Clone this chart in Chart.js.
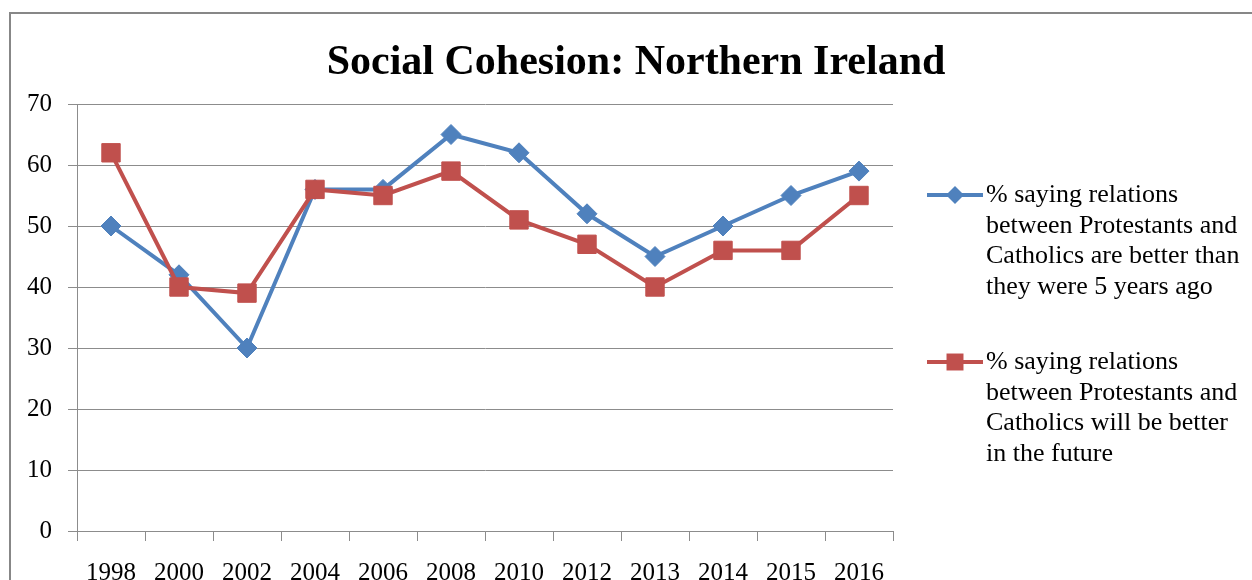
<!DOCTYPE html>
<html>
<head>
<meta charset="utf-8">
<title>Social Cohesion: Northern Ireland</title>
<script src="https://cdn.jsdelivr.net/npm/chart.js@4"></script>
<style>
  html, body { margin: 0; padding: 0; background: #fff; overflow: hidden; }
  canvas { display: block; }
</style>
</head>
<body>
<canvas id="myChart" width="1252" height="580"></canvas>
<script>
const years = ['1998', '2000', '2002', '2004', '2006', '2008', '2010', '2012', '2013', '2014', '2015', '2016'];
const betterThan5YearsAgo = [50, 42, 30, 56, 56, 65, 62, 52, 45, 50, 55, 59];
const betterInFuture = [62, 40, 39, 56, 55, 59, 51, 47, 40, 46, 46, 55];

const chartTitle = 'Social Cohesion: Northern Ireland';
// legend texts, already broken into lines
const labelPast = ['% saying relations', 'between Protestants and', 'Catholics are better than', 'they were 5 years ago'];
const labelFuture = ['% saying relations', 'between Protestants and', 'Catholics will be better', 'in the future'];

const BLUE = '#4F81BD';
const RED = '#C0504D';
const GRID = '#8c8c8c';
const SERIF = '"Liberation Serif", "DejaVu Serif", serif';

// frame, title and the wrapped legend on the right
const decorations = {
  id: 'decorations',
  beforeDraw(chart) {
    const ctx = chart.ctx;
    ctx.save();
    ctx.strokeStyle = '#878787';
    ctx.lineWidth = 2;
    ctx.strokeRect(10, 13, 1400, 800);
    ctx.restore();
  },
  afterDraw(chart) {
    const ctx = chart.ctx;
    ctx.save();
    ctx.fillStyle = '#000';
    ctx.font = 'bold 42px ' + SERIF;
    ctx.textAlign = 'center';
    ctx.textBaseline = 'middle';
    ctx.fillText(chartTitle, 636, 63);

    const startX = 927, endX = 983, textX = 986;
    const tops = [195, 362];
    const lineGap = 30.7;
    chart.data.datasets.forEach((ds, i) => {
      const y = tops[i];
      ctx.strokeStyle = ds.borderColor;
      ctx.lineWidth = ds.borderWidth;
      ctx.beginPath();
      ctx.moveTo(startX, y);
      ctx.lineTo(endX, y);
      ctx.stroke();
      ctx.fillStyle = ds.pointBackgroundColor;
      Chart.helpers.drawPoint(ctx, {
        pointStyle: ds.pointStyle,
        radius: ds.legendRadius,
        borderWidth: 0
      }, (startX + endX) / 2, y);
      ctx.fillStyle = '#000';
      ctx.font = '26px ' + SERIF;
      ctx.textAlign = 'left';
      ctx.textBaseline = 'middle';
      ds.lines.forEach((t, j) => ctx.fillText(t, textX, y + j * lineGap));
    });
    ctx.restore();
  }
};

let myChart;

const setup = () => {
  const ctxt = document.getElementById('myChart').getContext('2d');

  myChart = new Chart(ctxt, {
    type: 'line',
    data: {
      labels: years,
      datasets: [
        {
          label: labelPast.join(' '),
          lines: labelPast,
          data: betterThan5YearsAgo,
          borderColor: BLUE,
          backgroundColor: BLUE,
          pointBackgroundColor: BLUE,
          pointBorderColor: BLUE,
          borderWidth: 4,
          pointStyle: 'rectRot',
          pointRadius: 10,
          legendRadius: 9,
          pointBorderWidth: 1,
          tension: 0,
          order: 1
        },
        {
          label: labelFuture.join(' '),
          lines: labelFuture,
          data: betterInFuture,
          borderColor: RED,
          backgroundColor: RED,
          pointBackgroundColor: RED,
          pointBorderColor: RED,
          borderWidth: 4,
          pointStyle: 'rect',
          pointRadius: 13,
          legendRadius: 12,
          pointBorderWidth: 1,
          tension: 0,
          order: 0
        }
      ]
    },
    options: {
      responsive: false,
      animation: false,
      layout: {
        padding: { top: 104, right: 359, bottom: 0, left: 0 }
      },
      plugins: {
        legend: { display: false },
        title: { display: false },
        tooltip: { enabled: false }
      },
      scales: {
        x: {
          offset: true,
          grid: {
            offset: true,
            drawOnChartArea: false,
            drawTicks: true,
            tickLength: 10,
            color: GRID
          },
          border: { display: true, color: GRID },
          ticks: {
            color: '#000',
            padding: 17,
            maxRotation: 0,
            autoSkip: false,
            font: { family: SERIF, size: 25 }
          },
          afterFit: (scale) => { scale.height = 49; }
        },
        y: {
          min: 0,
          max: 70,
          grid: {
            color: GRID,
            tickLength: 9
          },
          border: { display: true, color: GRID },
          ticks: {
            stepSize: 10,
            color: '#000',
            padding: 16,
            font: { family: SERIF, size: 25 }
          },
          afterFit: (scale) => { scale.width = 77; }
        }
      }
    },
    plugins: [decorations]
  });
};

window.addEventListener('DOMContentLoaded', setup);
</script>
</body>
</html>
